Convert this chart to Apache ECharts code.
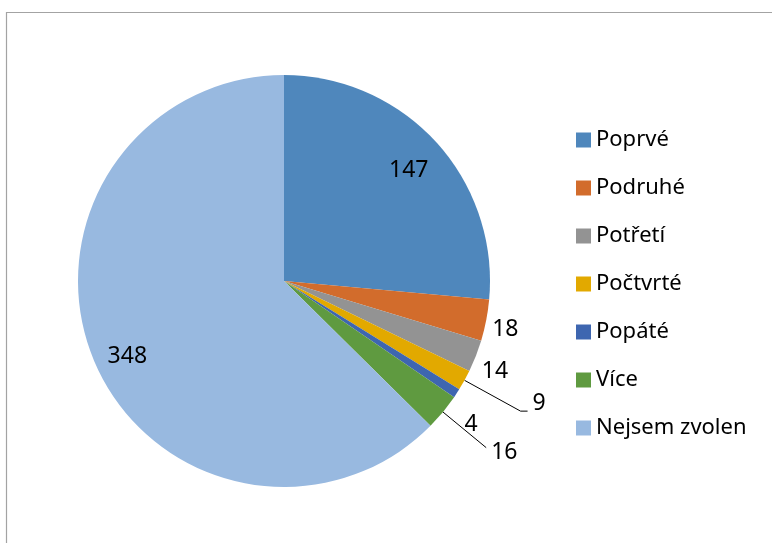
<!DOCTYPE html>
<html>
<head>
<meta charset="utf-8">
<script src="https://cdn.jsdelivr.net/npm/echarts@6/dist/echarts.min.js"></script>
<style>
  html, body { margin: 0; padding: 0; background: #ffffff; }
  #main { width: 772px; height: 543px; }
</style>
</head>
<body>
<div id="main"></div>
<script>
// data
var categories = ["Poprvé", "Podruhé", "Potřetí", "Počtvrté", "Popáté", "Více", "Nejsem zvolen"];
var values = [147, 18, 14, 9, 4, 16, 348];
var colors = ["#4F87BC", "#D26C2C", "#939393", "#E2A900", "#3E66B0", "#5F9A40", "#98B9E0"];

// label tuning for the small slices (outside labels)
var lineLen = [0, 1, 1, 64, 1, 56, 0];
var lineLen2 = [0, 0, 0, 7, 0, 0, 0];
var lineShow = [false, false, false, true, false, true, false];
var insideLabel = [true, false, false, false, false, false, true];
// nudges for labels without a leader line
var mainShift = [[0, 0], [0, 9], [0, 15], [0, 0], [2, 31], [0, 0], [0, 0]];
var innerShift = [[-3, 6], [0, 0], [0, 0], [0, 0], [0, 0], [0, 0], [3, 9]];

var fontName = "Noto Sans";

var mainData = [], overlayData = [];
for (var i = 0; i < values.length; i++) {
  var fmt = "{c}";
  if (i === 3) fmt = "{c}\n{g| }";   // 9 sits above its leader line
  if (i === 5) fmt = "{h| }\n{c}";   // 16 sits a little below
  mainData.push({
    name: categories[i],
    value: values[i],
    itemStyle: { color: colors[i] },
    label: { show: !insideLabel[i], formatter: fmt },
    labelLine: { show: lineShow[i], length: lineLen[i], length2: lineLen2[i] }
  });
  overlayData.push({
    name: categories[i],
    value: values[i],
    label: { show: insideLabel[i] }
  });
}

var myChart = echarts.init(document.getElementById("main"));
var option = {
  backgroundColor: "#ffffff",
  animation: false,
  graphic: [
    {
      type: "rect",
      shape: { x: 6.5, y: 12.5, width: 900, height: 700 },
      style: { fill: "none", stroke: "#A3A3A3", lineWidth: 1.2 },
      silent: true
    }
  ],
  legend: {
    orient: "vertical",
    left: 571,
    top: 124,
    icon: "rect",
    itemWidth: 15,
    itemHeight: 15,
    itemGap: 26,
    data: categories,
    selectedMode: false,
    textStyle: {
      fontFamily: fontName,
      fontSize: 22,
      color: "#000000"
    }
  },
  series: [
    {
      name: "main",
      type: "pie",
      center: [284, 281],
      radius: 206,
      startAngle: 90,
      clockwise: true,
      avoidLabelOverlap: false,
      silent: true,
      itemStyle: { borderWidth: 0 },
      label: {
        position: "outside",
        fontFamily: fontName,
        fontSize: 23,
        color: "#000000",
        rich: {
          g: { fontSize: 1, lineHeight: 15 },
          h: { fontSize: 1, lineHeight: 9 }
        }
      },
      labelLine: {
        lineStyle: { color: "#000000", width: 1 }
      },
      labelLayout: function(params) {
        var s = mainShift[params.dataIndex];
        return { dx: s[0], dy: s[1] };
      },
      data: mainData
    },
    {
      name: "labels",
      type: "pie",
      center: [284, 281],
      radius: [134, 206],
      startAngle: 90,
      clockwise: true,
      silent: true,
      avoidLabelOverlap: false,
      itemStyle: { color: "rgba(0,0,0,0)", borderWidth: 0 },
      label: {
        position: "inside",
        fontFamily: fontName,
        fontSize: 23,
        color: "#000000",
        formatter: "{c}"
      },
      labelLine: { show: false },
      labelLayout: function(params) {
        var s = innerShift[params.dataIndex];
        return { dx: s[0], dy: s[1] };
      },
      data: overlayData
    }
  ]
};
myChart.setOption(option);
</script>
</body>
</html>
